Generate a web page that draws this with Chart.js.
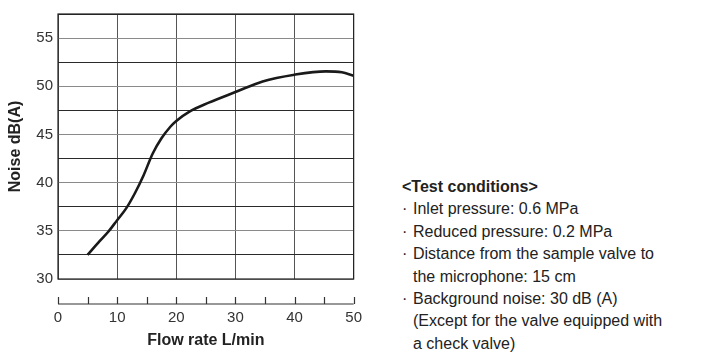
<!DOCTYPE html>
<html>
<head>
<meta charset="utf-8">
<script src="https://cdn.jsdelivr.net/npm/chart.js@4"></script>
<style>
  html, body { margin: 0; padding: 0; background: #fff; }
  body { width: 701px; height: 354px; position: relative; overflow: hidden; font-family: Arial, "Liberation Sans", sans-serif; }
  #wrap { position: absolute; left: 0; top: 0; width: 392px; height: 354px; }
  #cond { position: absolute; left: 402px; top: 176px; font-size: 16px; line-height: 22.4px; color: #222; white-space: nowrap; }
  #cond .head { font-weight: bold; }
  #cond .item { padding-left: 11px; text-indent: -11px; }
  #cond .dot { display: inline-block; width: 11px; text-indent: 0; }
</style>
</head>
<body>
<div id="wrap"><canvas id="chartNoise"></canvas></div>
<div id="cond">
  <div class="head">&lt;Test conditions&gt;</div>
  <div class="item"><span class="dot">·</span>Inlet pressure: 0.6 MPa</div>
  <div class="item"><span class="dot">·</span>Reduced pressure: 0.2 MPa</div>
  <div class="item"><span class="dot">·</span>Distance from the sample valve to<br>the microphone: 15 cm</div>
  <div class="item"><span class="dot">·</span>Background noise: 30 dB (A)<br>(Except for the valve equipped with<br>a check valve)</div>
</div>
<script>
// datos
const flujo = [5, 7, 8.5, 10, 11.5, 13, 14.5, 16, 17.5, 19, 20, 22.3, 25.5, 30, 34.6, 40, 45.3, 48, 50];
const ruido = [32.5, 33.9, 34.9, 36.1, 37.3, 38.9, 40.8, 43.0, 44.6, 45.8, 46.4, 47.4, 48.3, 49.4, 50.5, 51.2, 51.55, 51.45, 51.1];
const xTicks = [0, 10, 20, 30, 40, 50];
const yTicks = [30, 35, 40, 45, 50, 55];

const fontFam = 'Arial, "Liberation Sans", sans-serif';

// ── Plugin: marco del área + eje X separado ──
const marcoPlugin = {
    id: 'marco',
    afterDraw: function(chart) {
        var ctx = chart.ctx, a = chart.chartArea, sx = chart.scales.x;
        ctx.save();
        ctx.strokeStyle = '#222';
        ctx.lineWidth = 1.2;
        ctx.strokeRect(a.left, a.top, a.right - a.left, a.bottom - a.top);

        var yLine = a.bottom + 25;
        ctx.strokeStyle = '#333';
        ctx.lineWidth = 1.2;
        ctx.beginPath();
        ctx.moveTo(sx.getPixelForValue(0), yLine);
        ctx.lineTo(sx.getPixelForValue(50), yLine);
        for (var v = 0; v <= 50; v += 5) {
            var px = Math.round(sx.getPixelForValue(v)) + 0.5;
            ctx.moveTo(px, yLine);
            ctx.lineTo(px, yLine - 7);
        }
        ctx.stroke();
        ctx.restore();
    }
};

new Chart(document.getElementById('chartNoise').getContext('2d'), {
    type: 'line',
    data: {
        datasets: [{
            data: flujo.map(function(x, i) { return { x: x, y: ruido[i] }; }),
            borderColor: '#1a1a1a',
            borderWidth: 2.6,
            pointRadius: 0,
            fill: false,
            cubicInterpolationMode: 'monotone'
        }]
    },
    options: {
        responsive: true,
        maintainAspectRatio: false,
        animation: false,
        layout: { padding: { left: 0, top: 10, right: 22, bottom: 0 } },
        plugins: { legend: { display: false }, tooltip: { enabled: false } },
        scales: {
            x: {
                type: 'linear', min: 0, max: 50,
                afterBuildTicks: function(s) { s.ticks = xTicks.map(function(v) { return { value: v }; }); },
                afterFit: function(s) { s.height = 75; },
                grid: { color: '#555', lineWidth: 1, drawTicks: false },
                border: { display: false },
                ticks: { padding: 30, color: '#333', font: { family: fontFam, size: 15 } },
                title: { display: true, text: 'Flow rate L/min', color: '#222', padding: { top: 9 },
                         font: { family: fontFam, size: 16, weight: 'bold' } }
            },
            y: {
                type: 'linear', min: 30, max: 57.5,
                afterBuildTicks: function(s) {
                    var t = [];
                    for (var v = 30; v <= 57.5; v += 2.5) t.push({ value: v });
                    s.ticks = t;
                },
                afterFit: function(s) { s.width = 58; },
                grid: {
                    drawTicks: false, lineWidth: 1,
                    color: function(c) { return yTicks.indexOf(c.tick.value) >= 0 ? '#8a8a8a' : '#2a2a2a'; }
                },
                border: { display: false },
                ticks: {
                    padding: 5, color: '#333', font: { family: fontFam, size: 15 },
                    callback: function(v) { return yTicks.indexOf(v) >= 0 ? v : ''; }
                },
                title: { display: true, text: 'Noise dB(A)', color: '#222', padding: { top: 6, bottom: 0 },
                         font: { family: fontFam, size: 16, weight: 'bold' } }
            }
        }
    },
    plugins: [marcoPlugin]
});
</script>
</body>
</html>
